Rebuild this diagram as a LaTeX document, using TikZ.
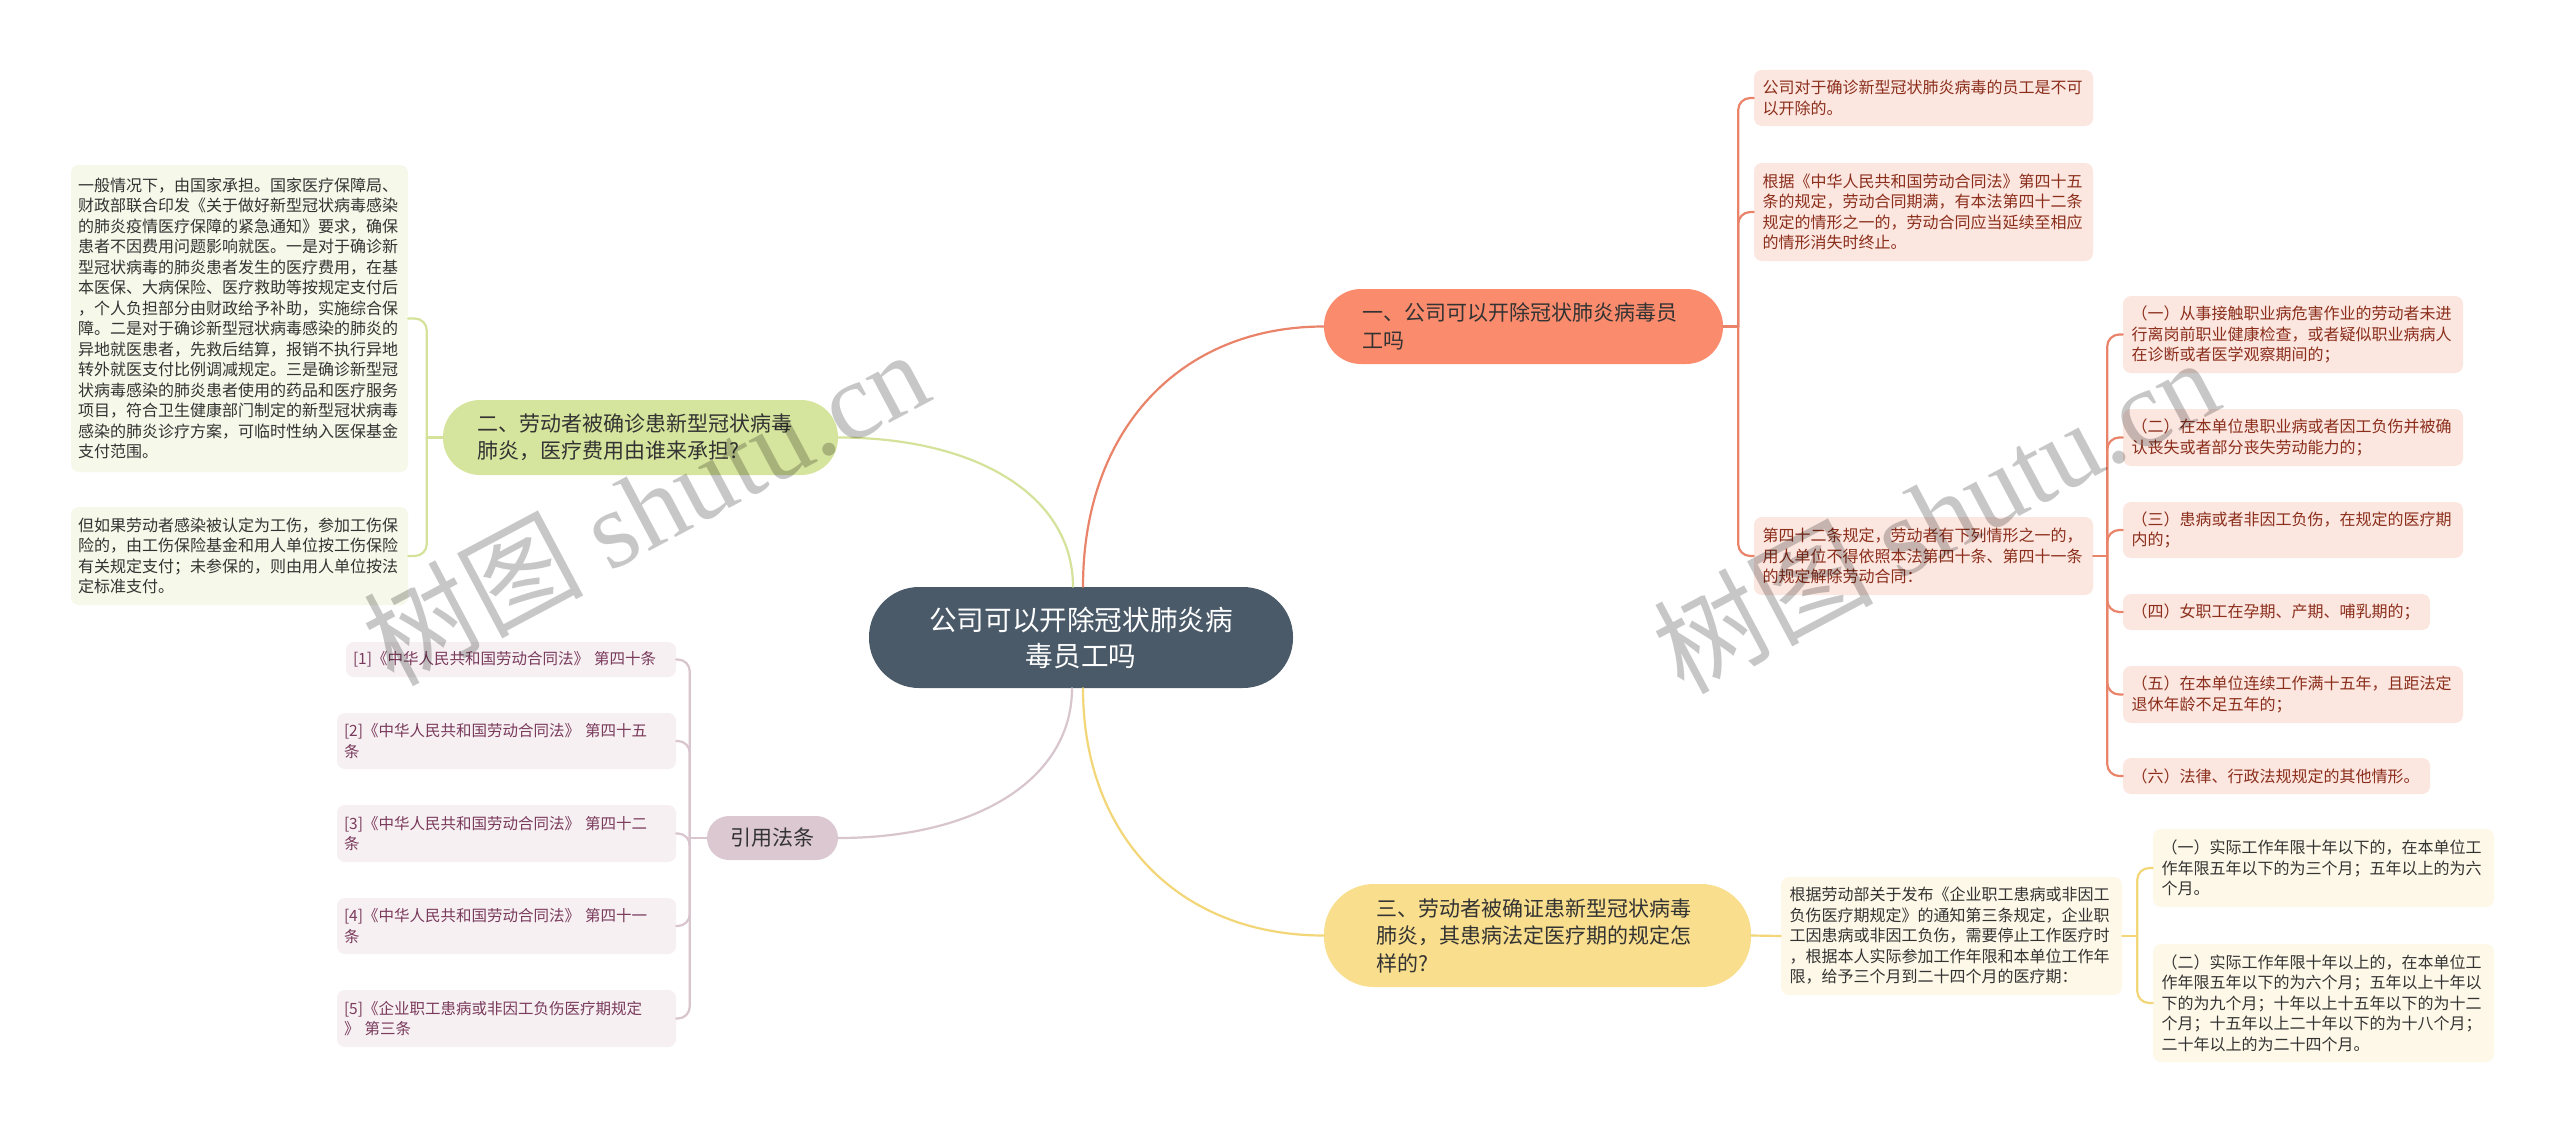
\documentclass[tikz,border=0pt]{standalone}
\usepackage{fontspec}
\setmainfont{Noto Sans CJK SC}
\newfontfamily\wmlatin{Liberation Serif}
\usetikzlibrary{calc}
\definecolor{cfill}{HTML}{4A5A69}
\definecolor{ofill}{HTML}{FA8B6D}
\definecolor{gfill}{HTML}{D6E59D}
\definecolor{yfill}{HTML}{F8DE8D}
\definecolor{mfill}{HTML}{DCC8D0}
\definecolor{oleaf}{HTML}{FCE6E0}
\definecolor{gleaf}{HTML}{F6F8E9}
\definecolor{yleaf}{HTML}{FDF8E7}
\definecolor{mleaf}{HTML}{F6F0F2}
\definecolor{otext}{HTML}{8B2E1B}
\definecolor{mtext}{HTML}{7A3A5C}
\definecolor{dtext}{HTML}{333333}
\definecolor{ocon}{HTML}{E9836A}
\definecolor{gcon}{HTML}{D4E29A}
\definecolor{ycon}{HTML}{F2D677}
\definecolor{mcon}{HTML}{D8C5CD}
\begin{document}
\begin{tikzpicture}[x=1pt,y=-1pt,
  mainbox/.style={inner ysep=0pt, align=left, text=dtext,
    font=\fontsize{21}{27.5}\selectfont},
  leafbox/.style={rounded corners=8pt, inner ysep=0pt, inner xsep=8.5pt, align=left,
    font=\fontsize{16}{20.5}\selectfont},
  oleafbox/.style={leafbox, fill=oleaf, text=otext},
  gleafbox/.style={leafbox, fill=gleaf, text=dtext, inner xsep=7pt},
  yleafbox/.style={leafbox, fill=yleaf, text=dtext},
  mleafbox/.style={leafbox, fill=mleaf, text=mtext, inner xsep=7pt,
    font=\fontsize{15.5}{20.5}\selectfont},
  conn/.style={line width=2.2pt, line cap=round},
  bracket/.style={conn, rounded corners=12pt},
  wm/.style={text=black, text opacity=0.22, font=\fontsize{110}{120}\selectfont}
]
\useasboundingbox (0,0) rectangle (2560,1132);
\fill[white] (0,0) rectangle (2560,1132);

% central and main nodes
\node[fill=cfill, rounded corners=50pt, inner ysep=0pt, inner xsep=47pt, text width=330pt,
  minimum height=101pt, align=center, text=white, font=\fontsize{27.6}{36}\selectfont]
  (c) at (1081,637.5) {公司可以开除冠状肺炎病\\毒员工吗};
\node[mainbox, fill=ofill, rounded corners=37pt, inner xsep=38pt, text width=323pt, minimum height=75pt]
  (n1) at (1523.5,326.5) {一、公司可以开除冠状肺炎病毒员\\工吗};
\node[mainbox, fill=gfill, rounded corners=37pt, inner xsep=34pt, text width=327pt, minimum height=75pt]
  (n2) at (640.5,437.5) {二、劳动者被确诊患新型冠状病毒\\肺炎，医疗费用由谁来承担?};
\node[mainbox, fill=yfill, rounded corners=50pt, inner xsep=52pt, text width=323pt, minimum height=103pt]
  (n3) at (1537.5,935.5) {三、劳动者被确证患新型冠状病毒\\肺炎，其患病法定医疗期的规定怎\\样的?};
\node[mainbox, fill=mfill, rounded corners=22pt, inner xsep=20.5pt, text width=90pt, minimum height=44pt, align=center]
  (n4) at (772.5,838) {引用法条};

% orange leaves
\node[oleafbox, text width=322pt, minimum height=56pt] (l1) at (1923.5,98)
  {公司对于确诊新型冠状肺炎病毒的员工是不可\\以开除的。};
\node[oleafbox, text width=322pt, minimum height=98pt] (l2) at (1923.5,212)
  {根据《中华人民共和国劳动合同法》第四十五\\条的规定，劳动合同期满，有本法第四十二条\\规定的情形之一的，劳动合同应当延续至相应\\的情形消失时终止。};
\node[oleafbox, text width=322pt, minimum height=78pt] (l3) at (1923.5,556)
  {第四十二条规定，劳动者有下列情形之一的，\\用人单位不得依照本法第四十条、第四十一条\\的规定解除劳动合同：};
\node[oleafbox, text width=323pt, minimum height=77pt] (s1) at (2293,334.5)
  {（一）从事接触职业病危害作业的劳动者未进\\行离岗前职业健康检查，或者疑似职业病病人\\在诊断或者医学观察期间的；};
\node[oleafbox, text width=323pt, minimum height=57pt] (s2) at (2293,437.5)
  {（二）在本单位患职业病或者因工负伤并被确\\认丧失或者部分丧失劳动能力的；};
\node[oleafbox, text width=323pt, minimum height=56pt] (s3) at (2293,530)
  {（三）患病或者非因工负伤，在规定的医疗期\\内的；};
\node[oleafbox, text width=290pt, minimum height=36pt] (s4) at (2276.5,612)
  {（四）女职工在孕期、产期、哺乳期的；};
\node[oleafbox, text width=323pt, minimum height=57pt] (s5) at (2293,694.5)
  {（五）在本单位连续工作满十五年，且距法定\\退休年龄不足五年的；};
\node[oleafbox, text width=290pt, minimum height=36pt] (s6) at (2276.5,776)
  {（六）法律、行政法规规定的其他情形。};

% green leaves
\node[gleafbox, text width=323pt, minimum height=307pt] (g1) at (239.5,318.5)
  {一般情况下，由国家承担。国家医疗保障局、\\财政部联合印发《关于做好新型冠状病毒感染\\的肺炎疫情医疗保障的紧急通知》要求，确保\\患者不因费用问题影响就医。一是对于确诊新\\型冠状病毒的肺炎患者发生的医疗费用，在基\\本医保、大病保险、医疗救助等按规定支付后\\，个人负担部分由财政给予补助，实施综合保\\障。二是对于确诊新型冠状病毒感染的肺炎的\\异地就医患者，先救后结算，报销不执行异地\\转外就医支付比例调减规定。三是确诊新型冠\\状病毒感染的肺炎患者使用的药品和医疗服务\\项目，符合卫生健康部门制定的新型冠状病毒\\感染的肺炎诊疗方案，可临时性纳入医保基金\\支付范围。};
\node[gleafbox, text width=323pt, minimum height=98pt] (g2) at (239.5,556)
  {但如果劳动者感染被认定为工伤，参加工伤保\\险的，由工伤保险基金和用人单位按工伤保险\\有关规定支付；未参保的，则由用人单位按法\\定标准支付。};

% yellow leaves
\node[yleafbox, text width=324pt, minimum height=118pt] (y0) at (1951.5,936)
  {根据劳动部关于发布《企业职工患病或非因工\\负伤医疗期规定》的通知第三条规定，企业职\\工因患病或非因工负伤，需要停止工作医疗时\\，根据本人实际参加工作年限和本单位工作年\\限，给予三个月到二十四个月的医疗期：};
\node[yleafbox, text width=324pt, minimum height=78pt] (y1) at (2323.5,868)
  {（一）实际工作年限十年以下的，在本单位工\\作年限五年以下的为三个月；五年以上的为六\\个月。};
\node[yleafbox, text width=324pt, minimum height=118pt] (y2) at (2323.5,1003)
  {（二）实际工作年限十年以上的，在本单位工\\作年限五年以下的为六个月；五年以上十年以\\下的为九个月；十年以上十五年以下的为十二\\个月；十五年以上二十年以下的为十八个月；\\二十年以上的为二十四个月。};

% mauve leaves
\node[mleafbox, text width=316pt, minimum height=35pt] (m1) at (511,659.5)
  {[1]《中华人民共和国劳动合同法》~第四十条};
\node[mleafbox, text width=325pt, minimum height=56pt] (m2) at (506.5,741)
  {[2]《中华人民共和国劳动合同法》~第四十五\\条};
\node[mleafbox, text width=325pt, minimum height=57pt] (m3) at (506.5,833.5)
  {[3]《中华人民共和国劳动合同法》~第四十二\\条};
\node[mleafbox, text width=325pt, minimum height=56pt] (m4) at (506.5,926)
  {[4]《中华人民共和国劳动合同法》~第四十一\\条};
\node[mleafbox, text width=325pt, minimum height=57pt] (m5) at (506.5,1018.5)
  {[5]《企业职工患病或非因工负伤医疗期规定\\》~第三条};

% main curves from the centre
\coordinate (co) at ($(c.north)+(2,0)$);
\coordinate (cg) at ($(c.north)+(-8,0)$);
\coordinate (cy) at ($(c.south)+(2,0)$);
\coordinate (cm) at ($(c.south)+(-9,0)$);
\coordinate (ko) at (co |- n1.west);
\coordinate (kg) at (cg |- n2.east);
\coordinate (ky) at (cy |- n3.west);
\coordinate (km) at (cm |- n4.east);
\draw[conn, ocon] (co) .. controls ($(co)!0.6!(ko)$) and ($(n1.west)!0.6!(ko)$) .. (n1.west);
\draw[conn, gcon] (cg) .. controls ($(cg)!0.6!(kg)$) and ($(n2.east)!0.6!(kg)$) .. (n2.east);
\draw[conn, ycon] (cy) .. controls ($(cy)!0.6!(ky)$) and ($(n3.west)!0.6!(ky)$) .. (n3.west);
\draw[conn, mcon] (cm) .. controls ($(cm)!0.6!(km)$) and ($(n4.east)!0.6!(km)$) .. (n4.east);

% orange brackets
\path (n1.east) ++(15,0) coordinate (t1);
\draw[conn, ocon] (n1.east) -- (t1);
\foreach \l in {l1,l2,l3} \draw[bracket, ocon] (t1) |- (\l.west);
\path (l3.east) ++(14,0) coordinate (t3);
\draw[conn, ocon] (l3.east) -- (t3);
\foreach \l in {s1,s2,s3,s4,s5,s6} \draw[bracket, ocon] (t3) |- (\l.west);

% green brackets
\path (n2.west) ++(-16,0) coordinate (t2);
\draw[conn, gcon] (n2.west) -- (t2);
\foreach \l in {g1,g2} \draw[bracket, gcon] (t2) |- (\l.east);

% yellow
\draw[conn, ycon] (n3.east) -- (y0.west);
\path (y0.east) ++(15,0) coordinate (ty);
\draw[conn, ycon] (y0.east) -- (ty);
\foreach \l in {y1,y2} \draw[bracket, ycon] (ty) |- (\l.west);

% mauve
\path (n4.west) ++(-17,0) coordinate (t4);
\draw[conn, mcon] (n4.west) -- (t4);
\foreach \l in {m1,m2,m3,m4,m5} \draw[bracket, mcon] (t4) |- (\l.east);

% watermarks
\node[wm, rotate=28] (wm1) at (645,506) {树图~{\wmlatin shutu.cn}};
\node[wm, rotate=28] (wm2) at (1935,514) {树图~{\wmlatin shutu.cn}};
\end{tikzpicture}
\end{document}
